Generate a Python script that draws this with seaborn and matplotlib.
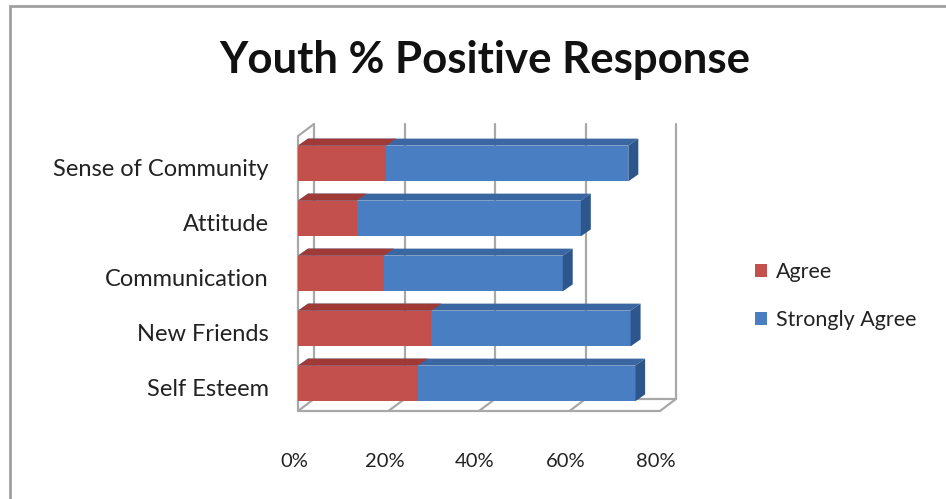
import matplotlib
matplotlib.use("Agg")
import matplotlib.pyplot as plt
import matplotlib.transforms as mtransforms
from matplotlib.patches import Polygon, Patch, Rectangle
import seaborn as sns
import pandas as pd

categories = ["Sense of Community", "Attitude", "Communication", "New Friends", "Self Esteem"]
agree = [19.5, 13.0, 19.0, 29.5, 26.5]
strongly_agree = [53.5, 49.5, 39.5, 44.0, 48.0]
series_names = ["Agree", "Strongly Agree"]
x_ticks = [0, 20, 40, 60, 80]
x_tick_labels = ["0%", "20%", "40%", "60%", "80%"]
title = "Youth % Positive Response"

RED = "#C4504D"
BLUE = "#4A7EC2"
RED_TOP = "#A03A37"
BLUE_TOP = "#3A67A2"
BLUE_SIDE = "#2C568C"
WALL = "#A8A8A8"

sns.set_theme(style="white")
plt.rcParams["font.family"] = ["Lato", "DejaVu Sans"]

W, H = 946, 499
fig = plt.figure(figsize=(W / 100, H / 100), dpi=100)
ax_left, ax_right, ax_top, ax_bot = 298, 660, 136, 411
ax = fig.add_axes([ax_left / W, 1 - ax_bot / H, (ax_right - ax_left) / W, (ax_bot - ax_top) / H])

df = pd.DataFrame({"category": categories, "agree": agree, "strong": strongly_agree})
df["total"] = df["agree"] + df["strong"]

bar_w = 0.65
sns.barplot(data=df, x="total", y="category", orient="y", color=BLUE, saturation=1,
            width=bar_w, ax=ax, zorder=3, linewidth=0)
n_blue = len(ax.patches)
sns.barplot(data=df, x="agree", y="category", orient="y", color=RED, saturation=1,
            width=bar_w, ax=ax, zorder=4, linewidth=0)
blue_bars = ax.patches[:n_blue]
red_bars = ax.patches[n_blue:]

ax.set_xlim(0, 80)
ax.set_ylim(len(categories) - 0.5, -0.5)

# depth offsets (data units)
px_x = (ax_right - ax_left) / 80.0
px_y = (ax_bot - ax_top) / len(categories)
bdx, bdy = 10 / px_x, 7 / px_y      # bar depth
wdx, wdy = 16 / px_x, 12 / px_y     # wall depth

# 3D faces for bars
for bars, top_col, z in ((blue_bars, BLUE_TOP, 3.5), (red_bars, RED_TOP, 4.5)):
    for p in bars:
        x0, x1 = p.get_x(), p.get_x() + p.get_width()
        y0, y1 = p.get_y(), p.get_y() + p.get_height()
        yt = min(y0, y1)
        ax.add_patch(Polygon([(x0, yt), (x1, yt), (x1 + bdx, yt - bdy), (x0 + bdx, yt - bdy)],
                             closed=True, facecolor=top_col, edgecolor="none", zorder=z,
                             clip_on=False))
for p in blue_bars:
    x1 = p.get_x() + p.get_width()
    y0, y1 = sorted([p.get_y(), p.get_y() + p.get_height()])
    ax.add_patch(Polygon([(x1, y0), (x1, y1), (x1 + bdx, y1 - bdy), (x1 + bdx, y0 - bdy)],
                         closed=True, facecolor=BLUE_SIDE, edgecolor="none", zorder=3.6, clip_on=False))

# walls and floor
ytop, ybot = -0.5, len(categories) - 0.5
lk = dict(color=WALL, lw=1.6, clip_on=False, zorder=1, solid_capstyle="round")
for t in x_ticks:
    ax.plot([t + wdx, t + wdx], [ytop - wdy, ybot - wdy], **lk)
    ax.plot([t, t + wdx], [ybot, ybot - wdy], **lk)
ax.plot([0, 0], [ytop, ybot], **lk)
ax.plot([0, wdx], [ytop, ytop - wdy], **lk)
ax.plot([0, 80], [ybot, ybot], **lk)
ax.plot([wdx, 80 + wdx], [ybot - wdy, ybot - wdy], **lk)

for s in ax.spines.values():
    s.set_visible(False)
ax.set_xlabel("")
ax.set_ylabel("")
ax.set_xticks(x_ticks)
ax.set_xticklabels(x_tick_labels)
ax.tick_params(axis="both", length=0, colors="#222222")
ax.tick_params(axis="y", pad=21, labelsize=17)
ax.tick_params(axis="x", pad=30, labelsize=14.5)
for lab in ax.get_yticklabels():
    lab.set_transform(lab.get_transform() + mtransforms.ScaledTranslation(0, -4 / 100, fig.dpi_scale_trans))
for lab in ax.get_xticklabels():
    lab.set_transform(lab.get_transform() + mtransforms.ScaledTranslation(-4 / 100, 0, fig.dpi_scale_trans))
ax.set_facecolor("none")
ax.grid(False)

fig.text(485 / W, 1 - 60 / H, title, ha="center", va="center", fontsize=31.5, fontweight="bold", color="#111111")

handles = [Patch(facecolor=RED, edgecolor="none"), Patch(facecolor=BLUE, edgecolor="none")]
fig.legend(handles, series_names, loc="center left", bbox_to_anchor=(744 / W, 1 - 296 / H),
           frameon=False, fontsize=15.5, handlelength=0.55, handleheight=0.55, handletextpad=0.45,
           labelspacing=1.3, borderpad=0, labelcolor="#222222")

fig.patches.append(Rectangle((10 / W, -0.1), 1.2, 1 - 6 / H + 0.1, transform=fig.transFigure,
                             fill=False, edgecolor="#A0A0A0", lw=2))

fig.savefig("out.png", dpi=100, facecolor="white")
